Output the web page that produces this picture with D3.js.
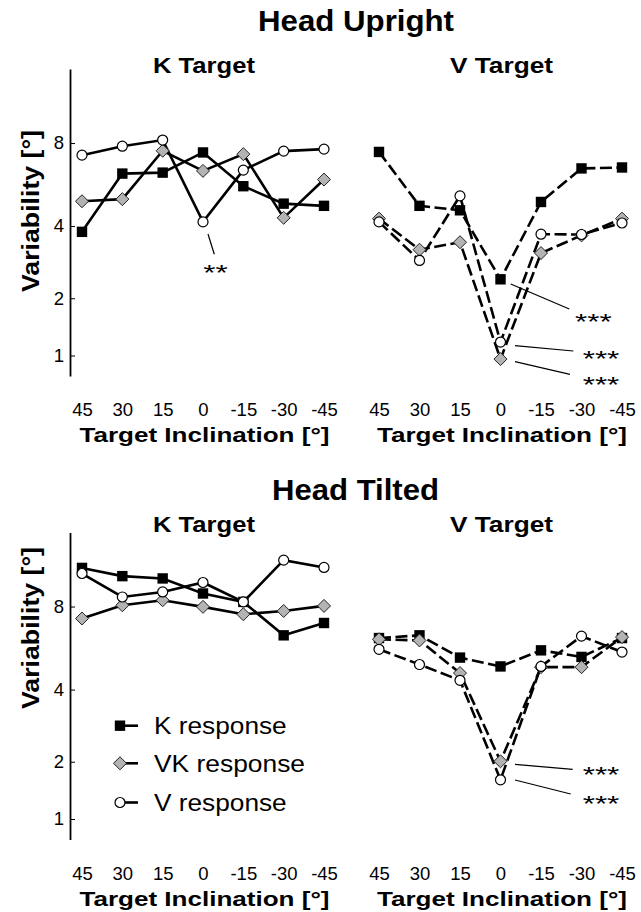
<!DOCTYPE html>
<html>
<head>
  <meta charset="utf-8">
  <script src="https://d3js.org/d3.v7.min.js"></script>
  <style>
    body { margin: 0; background: #fff; }
    svg { font-family: "Liberation Sans", Arial, sans-serif; }
    .line { fill: none; stroke: #000; stroke-width: 2.6; }
    .dashed { stroke-dasharray: 12, 4.5; }
    .ann { stroke: #000; stroke-width: 1.2; }
  </style>
</head>
<body>
  <svg id="chart" width="641" height="912"></svg>
  <script>
    // categories (target inclination, deg)
    const categories = ["45", "30", "15", "0", "-15", "-30", "-45"];
    const yTicks = [1, 2, 4, 8];

    // Head upright, K target
    const uprightK_K = [3.8, 6.25, 6.3, 7.42, 5.63, 4.86, 4.77];
    const uprightK_VK = [4.96, 5.05, 7.52, 6.39, 7.32, 4.3, 5.95];
    const uprightK_V = [7.26, 7.8, 8.19, 4.15, 6.43, 7.5, 7.62];
    // Head upright, V target
    const uprightV_K = [7.45, 4.77, 4.59, 2.43, 4.93, 6.52, 6.57];
    const uprightV_VK = [4.27, 3.23, 3.46, 0.95, 3.13, 3.68, 4.27];
    const uprightV_V = [4.15, 2.92, 5.19, 1.2, 3.72, 3.71, 4.11];
    // Head tilted, K target
    const tiltedK_K = [10.83, 10.16, 9.98, 8.87, 8.3, 6.34, 7.01];
    const tiltedK_VK = [7.27, 8.08, 8.41, 7.98, 7.52, 7.72, 8.04];
    const tiltedK_V = [10.37, 8.63, 8.98, 9.67, 8.3, 11.5, 10.87];
    // Head tilted, V target
    const tiltedV_K = [6.2, 6.34, 5.27, 4.89, 5.6, 5.3, 6.2];
    const tiltedV_VK = [6.14, 6.08, 4.62, 2.01, 4.86, 4.86, 6.25];
    const tiltedV_V = [5.65, 4.97, 4.34, 1.64, 4.89, 6.3, 5.52];

    const seriesNames = ["K response", "VK response", "V response"];

    const svg = d3.select("#chart");
    const font = "Liberation Sans, Arial, sans-serif";

    const xLeft = d3.scalePoint().domain(categories).range([82, 324]);
    const xRight = d3.scalePoint().domain(categories).range([379, 622]);

    function yScale(offset) {
      return d3.scaleSymlog().constant(1).domain([0.73, 14.2]).range([376 + offset, 69 + offset]);
    }

    // text stretched to the width it has in the figure
    function label(parent, x, y, str, size, width, bold) {
      return parent.append("text").attr("x", x).attr("y", y)
        .attr("text-anchor", "middle").attr("font-size", size)
        .attr("font-weight", bold ? "bold" : "normal")
        .attr("textLength", width).attr("lengthAdjust", "spacingAndGlyphs")
        .text(str);
    }

    function drawMarker(g, type, x, y) {
      if (type === 0) {
        g.append("rect").attr("x", x - 5.2).attr("y", y - 5.2).attr("width", 10.4).attr("height", 10.4)
          .attr("fill", "#000");
      } else if (type === 1) {
        g.append("path").attr("d", `M${x},${y - 6.5}L${x + 6.5},${y}L${x},${y + 6.5}L${x - 6.5},${y}Z`)
          .attr("fill", "#b3b3b3").attr("stroke", "#222").attr("stroke-width", 1);
      } else {
        g.append("circle").attr("cx", x).attr("cy", y).attr("r", 5)
          .attr("fill", "#fff").attr("stroke", "#000").attr("stroke-width", 1.2);
      }
    }

    function drawPanel(x, y, series, dashed, title, titleY, titleW) {
      const g = svg.append("g");
      series.forEach(vals => {
        const line = d3.line().x((d, i) => x(categories[i])).y(d => y(d));
        g.append("path").datum(vals)
          .attr("class", "line" + (dashed ? " dashed" : ""))
          .attr("d", line);
      });
      series.forEach((vals, si) => {
        vals.forEach((v, i) => drawMarker(g, si, x(categories[i]), y(v)));
      });

      const mid = (x.range()[0] + x.range()[1]) / 2;
      label(svg, mid + 1, titleY, title, 22, titleW, true);

      // x labels
      const base = y.range()[0];
      const ax = svg.append("g").attr("transform", `translate(0,${base})`)
        .call(d3.axisBottom(x).tickSize(0).tickPadding(27));
      ax.select(".domain").remove();
      ax.selectAll("text").attr("font-size", 18.5).attr("font-family", font).attr("fill", "#000");

      label(svg, mid + 1.5, base + 66, "Target Inclination [°]", 21, 250, true);
    }

    function drawYAxis(y, labelY) {
      const ax = svg.append("g").attr("transform", "translate(70,0)")
        .call(d3.axisLeft(y).tickValues(yTicks).tickFormat(d3.format("d"))
          .tickSizeInner(-5).tickSizeOuter(0).tickPadding(6));
      ax.select(".domain").attr("stroke-width", 1.8);
      ax.selectAll("text").attr("font-size", 18.5).attr("font-family", font).attr("fill", "#000");
      label(svg, 0, 0, "Variability [°]", 24, 162, true)
        .attr("transform", `translate(38.5,${labelY}) rotate(-90)`);
    }

    function annotate(x1, y1, x2, y2, str, tx, ty) {
      svg.append("line").attr("class", "ann")
        .attr("x1", x1).attr("y1", y1).attr("x2", x2).attr("y2", y2);
      label(svg, tx, ty + 12.5, str, 22, str.length * 12.2, false);
    }

    // Head Upright
    label(svg, 356, 31, "Head Upright", 30, 196, true);
    const yTop = yScale(0);
    drawYAxis(yTop, 211);
    drawPanel(xLeft, yTop, [uprightK_K, uprightK_VK, uprightK_V], false, "K Target", 73, 102);
    drawPanel(xRight, yTop, [uprightV_K, uprightV_VK, uprightV_V], true, "V Target", 73, 103);

    // Head Tilted
    label(svg, 355.5, 500, "Head Tilted", 30, 167, true);
    const yBot = yScale(463.5);
    drawYAxis(yBot, 628);
    drawPanel(xLeft, yBot, [tiltedK_K, tiltedK_VK, tiltedK_V], false, "K Target", 532, 102);
    drawPanel(xRight, yBot, [tiltedV_K, tiltedV_VK, tiltedV_V], true, "V Target", 532, 103);

    // significance annotations
    annotate(208, 234, 214.3, 254.3, "**", 215.5, 267.7);
    annotate(510.7, 284, 569.3, 309, "***", 593.3, 316);
    annotate(515, 345.7, 573.3, 351, "***", 601, 353.3);
    annotate(515, 361.7, 570, 374.3, "***", 601, 379.3);
    annotate(515, 764.3, 572.7, 769.3, "***", 601, 769.3);
    annotate(515, 780, 570.7, 794, "***", 601, 798.3);

    // legend
    const legendY = [725.7, 763.3, 802.5];
    const legendW = [132.7, 151, 132.7];
    seriesNames.forEach((name, i) => {
      svg.append("line").attr("x1", 120).attr("x2", 138).attr("y1", legendY[i]).attr("y2", legendY[i])
        .attr("stroke", "#000").attr("stroke-width", 2.6);
      drawMarker(svg, i, 120, legendY[i]);
      label(svg, 154 + legendW[i] / 2, legendY[i] + 8.5, name, 24, legendW[i], false);
    });
  </script>
</body>
</html>
